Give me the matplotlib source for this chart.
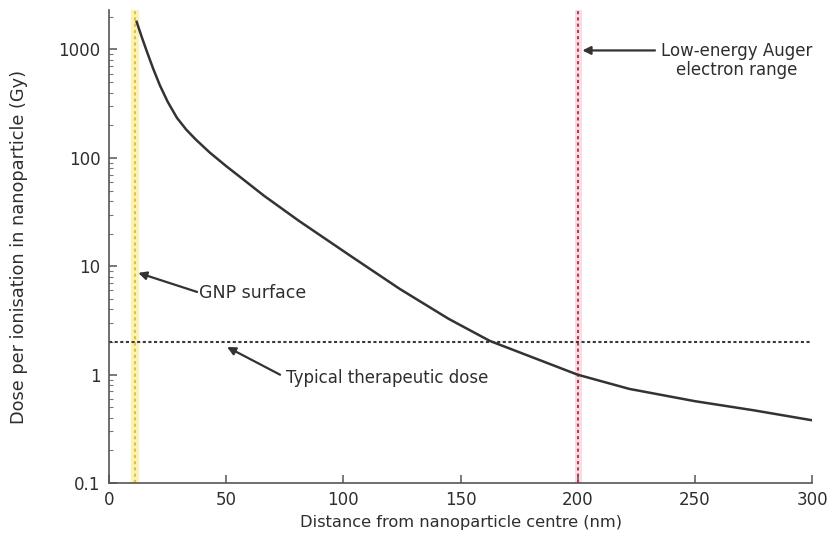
import matplotlib.pyplot as plt

# dose curve
distance_nm = [11.8, 13.9, 16.1, 18.9, 21.7, 25, 29, 33, 37, 43, 50, 57, 66, 81, 103,
               124, 145, 162.5, 200, 222, 250, 275, 300]
dose_gy = [1800, 1318, 966, 661, 468, 331, 234, 182, 148, 112, 84, 64, 45, 26.3, 12.5,
           6.2, 3.27, 2.05, 1.0, 0.74, 0.57, 0.47, 0.38]

gnp_surface_nm = 11.3
auger_range_nm = 200
therapeutic_dose_gy = 2

x_ticks = [0, 50, 100, 150, 200, 250, 300]
y_ticks = [0.1, 1, 10, 100, 1000]
y_tick_labels = ['0.1', '1', '10', '100', '1000']

text_col = '#2e2e2e'
plt.rcParams['font.family'] = ['DejaVu Sans']

fig = plt.figure(figsize=(8.32, 5.41), dpi=100)
ax = fig.add_axes([0.131, 0.107, 0.845, 0.874])

# vertical markers with soft glow
ax.axvline(gnp_surface_nm, color='#fbf2b8', lw=6, zorder=1)
ax.axvline(gnp_surface_nm, color='#e2c23a', lw=1.5, ls=(0, (1.5, 1.5)), zorder=2)
ax.axvline(auger_range_nm, color='#f6dfe4', lw=5, zorder=1)
ax.axvline(auger_range_nm, color='#c4364f', lw=1.5, ls=(0, (1.5, 1.5)), zorder=2)

# therapeutic dose line
ax.axhline(therapeutic_dose_gy, color='#3a3a3a', lw=1.5, ls=(0, (1.5, 1.2)), zorder=2)

# the curve
ax.plot(distance_nm, dose_gy, color='#333333', lw=1.8, zorder=3)

ax.set_yscale('log')
ax.set_xlim(0, 300)
ax.set_ylim(0.1, 2300)
ax.set_xticks(x_ticks)
ax.set_yticks(y_ticks)
ax.set_yticklabels(y_tick_labels)

for s in ['top', 'right']:
    ax.spines[s].set_visible(False)
for s in ['left', 'bottom']:
    ax.spines[s].set_color('#555555')
    ax.spines[s].set_linewidth(1.2)

ax.tick_params(axis='both', which='major', direction='in', length=6, width=1.1,
               color='#555555', labelsize=12, labelcolor=text_col, pad=6)
ax.tick_params(axis='y', which='minor', direction='in', length=3, width=0.8, color='#777777')

ax.set_xlabel('Distance from nanoparticle centre (nm)', fontsize=11.7, color=text_col, labelpad=4)
ax.set_ylabel('Dose per ionisation in nanoparticle (Gy)', fontsize=12.8, color=text_col, labelpad=22)

arrow = dict(arrowstyle='-|>', color='#333333', lw=1.6, mutation_scale=12, shrinkA=0, shrinkB=0)

# Auger range label
ax.annotate('', xy=(202, 980), xytext=(233, 980), arrowprops=arrow)
ax.text(268, 790, 'Low-energy Auger\nelectron range', ha='center', va='center',
        fontsize=12, color=text_col, linespacing=1.1)

# GNP surface label
ax.annotate('', xy=(12.5, 8.7), xytext=(37.6, 5.8), arrowprops=arrow)
ax.text(38.5, 5.7, 'GNP surface', ha='left', va='center', fontsize=12.5, color=text_col)

# therapeutic dose label
ax.annotate('', xy=(50.4, 1.8), xytext=(73, 1.0), arrowprops=arrow)
ax.text(75.6, 0.93, 'Typical therapeutic dose', ha='left', va='center', fontsize=12, color=text_col)

plt.savefig('out.png', dpi=100)
plt.close()
